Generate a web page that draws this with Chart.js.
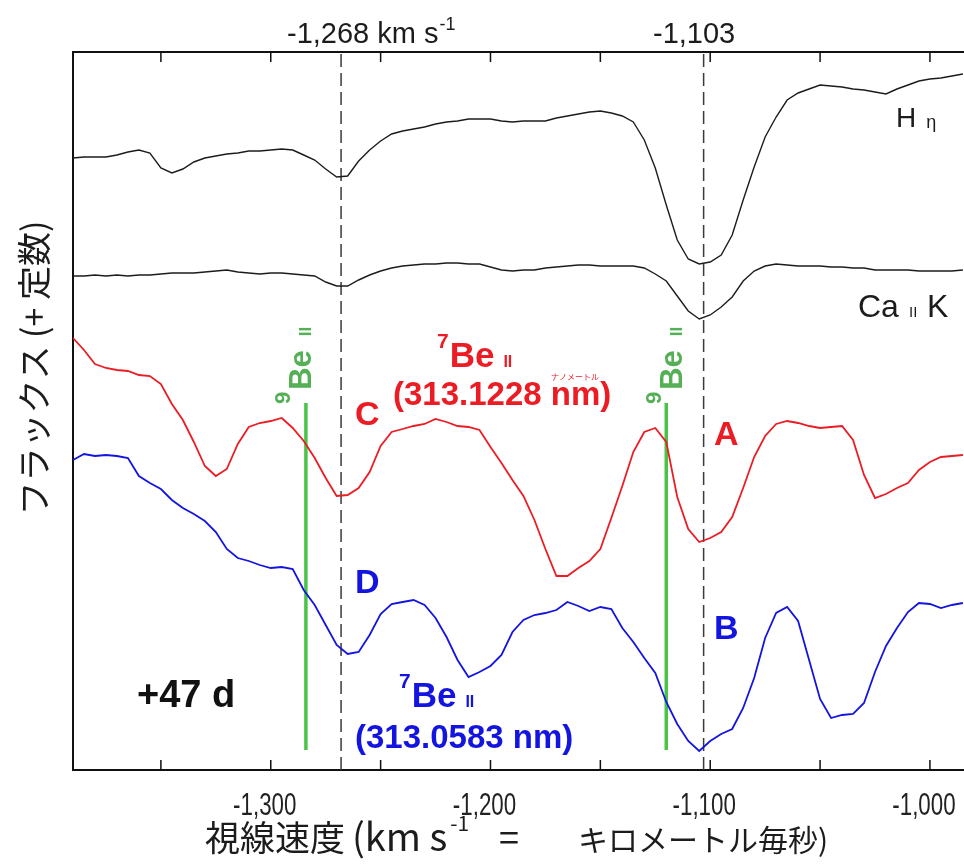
<!DOCTYPE html>
<html>
<head>
<meta charset="utf-8">
<script src="https://cdn.jsdelivr.net/npm/chart.js@4.4.1/dist/chart.umd.min.js"></script>
<style>
  html, body { margin: 0; padding: 0; background: #fff; overflow: hidden; }
  canvas { display: block; }
</style>
</head>
<body>
<canvas id="c" width="964" height="865"></canvas>
<script>
// Velocity grid (km/s) shared by all four spectra
const velocity = [-1390,-1385,-1380,-1375,-1370,-1365,-1360,-1355,-1350,-1345,-1340,-1335,-1330,-1325,-1320,-1315,-1310,-1305,-1300,-1295,
  -1290,-1285,-1280,-1275,-1270,-1265,-1260,-1255,-1250,-1245,-1240,-1235,-1230,-1225,-1220,-1215,-1210,-1205,-1200,-1195,
  -1190,-1185,-1180,-1175,-1170,-1165,-1160,-1155,-1150,-1145,-1140,-1135,-1130,-1125,-1120,-1115,-1110,-1105,-1100,-1095,
  -1090,-1085,-1080,-1075,-1070,-1065,-1060,-1055,-1050,-1045,-1040,-1035,-1030,-1025,-1020,-1015,-1010,-1005,-1000,-995,
  -990,-985];

// Normalised flux + offset (arbitrary units)
const fluxHeta = [6.12,6.13,6.13,6.13,6.15,6.18,6.20,6.17,6.02,5.97, 6.01,6.08,6.12,6.14,6.16,6.17,6.19,6.19,6.20,6.21,
  6.20,6.15,6.10,6.01,5.93,5.94,6.09,6.20,6.29,6.36, 6.39,6.41,6.43,6.46,6.48,6.49,6.51,6.51,6.51,6.49,
  6.48,6.49,6.49,6.49,6.52,6.54,6.56,6.58,6.59,6.57, 6.54,6.48,6.30,6.02,5.65,5.30,5.11,5.06,5.08,5.15,
  5.35,5.70,6.03,6.33,6.53,6.70,6.77,6.81,6.85,6.84, 6.83,6.81,6.80,6.78,6.76,6.81,6.85,6.89,6.91,6.92,
  6.94,6.96];
const fluxCaK = [4.94,4.94,4.95,4.94,4.95,4.94,4.95,4.95,4.96,4.97, 4.97,4.97,4.98,4.99,5.00,4.98,4.97,4.96,4.97,4.97,
  4.96,4.95,4.94,4.88,4.84,4.84,4.90,4.95,4.99,5.02, 5.04,5.05,5.06,5.06,5.07,5.07,5.06,5.06,5.03,5.00,
  4.99,5.00,5.00,5.02,5.03,5.04,5.05,5.05,5.04,5.04, 5.04,5.04,5.02,4.96,4.89,4.74,4.59,4.51,4.55,4.63,
  4.73,4.89,4.99,5.04,5.06,5.05,5.04,5.04,5.04,5.03, 5.03,5.02,5.02,5.00,5.00,5.00,5.00,4.99,4.99,4.99,
  4.99,5.00];
const fluxRed = [4.32,4.20,4.06,4.02,4.00,3.99,3.95,3.94,3.86,3.66, 3.50,3.28,3.04,2.94,3.01,3.26,3.43,3.47,3.49,3.52,
  3.42,3.29,3.12,2.92,2.74,2.75,2.82,2.98,3.24,3.38, 3.41,3.44,3.46,3.51,3.48,3.44,3.43,3.40,3.23,3.07,
  2.90,2.74,2.50,2.21,1.94,1.94,2.02,2.09,2.21,2.52, 2.84,3.18,3.38,3.42,3.28,2.73,2.41,2.28,2.32,2.38,
  2.53,2.82,3.13,3.34,3.46,3.49,3.47,3.44,3.42,3.43, 3.44,3.30,2.95,2.72,2.76,2.82,2.87,3.00,3.08,3.13,
  3.14,3.15];
const fluxBlue = [3.10,3.16,3.14,3.15,3.14,3.12,2.94,2.87,2.81,2.70, 2.62,2.56,2.49,2.38,2.21,2.12,2.09,2.05,2.02,2.03,
  2.01,1.80,1.65,1.45,1.25,1.16,1.18,1.35,1.56,1.66, 1.68,1.70,1.65,1.52,1.33,1.10,0.93,0.98,1.04,1.15,
  1.38,1.50,1.55,1.57,1.60,1.68,1.64,1.59,1.63,1.61, 1.42,1.28,1.12,0.97,0.68,0.46,0.29,0.19,0.29,0.36,
  0.41,0.62,0.92,1.32,1.57,1.63,1.49,1.10,0.71,0.52, 0.55,0.56,0.67,0.98,1.24,1.42,1.58,1.67,1.66,1.62,
  1.65,1.67];

// Axis ticks and marker lines
const tickValues = [-1350, -1300, -1250, -1200, -1150, -1100, -1050, -1000];
const dashedVel = [-1268, -1103];
const be9Vel = [-1284, -1120];
const be9Span = [0.20, 3.67];
const yRange = [0, 7.18];
const xRange = [-1390, -984.5];

const pts = arr => velocity.map((v, i) => ({ x: v, y: arr[i] }));
const vline = (v, span) => [{ x: v, y: span[0] }, { x: v, y: span[1] }];

const datasets = [
  { data: pts(fluxHeta), borderColor: '#1c1c1c', borderWidth: 1.4 },
  { data: pts(fluxCaK), borderColor: '#1c1c1c', borderWidth: 1.4 },
  { data: pts(fluxRed), borderColor: '#ec1c24', borderWidth: 1.8 },
  { data: pts(fluxBlue), borderColor: '#1414e0', borderWidth: 1.8 },
];
be9Vel.forEach(v => datasets.push({ data: vline(v, be9Span), borderColor: '#49c449', borderWidth: 3.5 }));
dashedVel.forEach(v => datasets.push({ data: vline(v, yRange), borderColor: '#3a3a3a', borderWidth: 1.5, borderDash: [13, 6] }));
datasets.forEach(d => { d.pointRadius = 0; d.tension = 0; d.fill = false; });

const fmt = v => Number(v).toLocaleString('en-US');

function txt(ctx, s, x, y, font, color, align) {
  ctx.font = font;
  ctx.fillStyle = color;
  ctx.textAlign = align || 'left';
  ctx.textBaseline = 'alphabetic';
  ctx.fillText(s, x, y);
  return x + ctx.measureText(s).width;
}

const annotations = {
  id: 'annotations',
  afterDraw(chart) {
    const ctx = chart.ctx;
    const xs = chart.scales.x;
    const area = chart.chartArea;
    const sans = '"Liberation Sans", Arial, sans-serif';
    const cjk = '"Noto Sans CJK JP", "Noto Sans", sans-serif';
    const red = '#ec1c24', blue = '#1414e0', green = '#55b055', ink = '#1c1c1c';
    ctx.save();

    // inward tick marks (bottom and top) and condensed tick labels
    ctx.strokeStyle = '#111';
    ctx.lineWidth = 1.5;
    tickValues.forEach(v => {
      const px = xs.getPixelForValue(v);
      ctx.beginPath();
      ctx.moveTo(px, area.bottom); ctx.lineTo(px, area.bottom - 10);
      ctx.moveTo(px, area.top); ctx.lineTo(px, area.top + 10);
      ctx.stroke();
      if (v % 100 === 0) {
        ctx.save();
        ctx.translate(px - 6, 815);
        ctx.scale(0.72, 1);
        txt(ctx, fmt(v), 0, 0, '31px ' + sans, '#222', 'center');
        ctx.restore();
      }
    });

    // top velocity labels
    let e = txt(ctx, '-1,268 km s', 287, 43, '29px ' + sans, ink);
    txt(ctx, '-1', e + 1, 30, '18px ' + sans, ink);
    txt(ctx, '-1,103', 653, 43, '29px ' + sans, ink);

    // line identifiers
    e = txt(ctx, 'H', 896, 127, '28px ' + sans, ink);
    txt(ctx, 'η', e + 10, 128, '18px ' + sans, ink);
    txt(ctx, 'Ca', 858, 317, '32px ' + sans, ink);
    txt(ctx, 'II', 909, 317, '15px ' + sans, ink);
    txt(ctx, 'K', 927, 317, '32px ' + sans, ink);

    // component letters
    const bold = s => 'bold ' + s + 'px ' + sans;
    txt(ctx, 'C', 355, 425, bold(34), red);
    txt(ctx, 'A', 714, 445, bold(34), red);
    txt(ctx, 'D', 355, 593, bold(34), blue);
    txt(ctx, 'B', 714, 639, bold(34), blue);
    txt(ctx, '+47 d', 137, 707, bold(38), '#111');

    // 7Be II labels
    function iso(x, y, color, sup) {
      let p = txt(ctx, sup, x, y - 19, bold(21), color);
      p = txt(ctx, 'Be', p + 1, y, bold(35), color);
      txt(ctx, 'II', p + 9, y, bold(16), color);
    }
    iso(437, 367, red, '7');
    txt(ctx, '(313.1228 nm)', 393, 405, bold(33), red);
    txt(ctx, 'ナノメートル', 551, 380, '8px ' + cjk, red);
    iso(399, 707, blue, '7');
    txt(ctx, '(313.0583 nm)', 355, 748, bold(33), blue);

    // rotated 9Be II labels
    [[311, 404], [682, 404]].forEach(([x, y]) => {
      ctx.save();
      ctx.translate(x, y);
      ctx.rotate(-Math.PI / 2);
      let p = txt(ctx, '9', 0, -21, bold(22), green);
      p = txt(ctx, 'Be', p + 2, 0, bold(31), green);
      txt(ctx, 'II', p + 14, 0, bold(17), green);
      ctx.restore();
    });

    // x axis title (mixed sizes as in the original)
    txt(ctx, '視線速度', 205, 851, '35px ' + cjk, ink);
    e = txt(ctx, '(km s', 352, 851, '38px ' + cjk, ink);
    txt(ctx, '-1', e + 3, 831, '21px ' + cjk, ink);
    txt(ctx, '=', 499, 851, '36px ' + cjk, ink);
    txt(ctx, 'キロメートル毎秒)', 578, 851, '30px ' + cjk, ink);

    // y axis title
    ctx.save();
    ctx.translate(34, 368);
    ctx.rotate(-Math.PI / 2);
    ctx.font = '34px ' + cjk;
    ctx.fillStyle = ink;
    ctx.textAlign = 'center';
    ctx.textBaseline = 'middle';
    ctx.fillText('フラックス (+ 定数)', 0, 0);
    ctx.restore();

    ctx.restore();
  }
};

new Chart(document.getElementById('c'), {
  type: 'line',
  data: { datasets },
  options: {
    responsive: false,
    animation: false,
    layout: { padding: 0 },
    plugins: { legend: { display: false }, tooltip: { enabled: false } },
    scales: {
      x: {
        type: 'linear', position: 'bottom',
        min: xRange[0], max: xRange[1],
        grid: { display: false, drawTicks: false },
        border: { display: true, color: '#111', width: 2 },
        ticks: { display: false },
        afterFit: s => { s.height = 95; }
      },
      xTop: {
        type: 'linear', position: 'top',
        min: xRange[0], max: xRange[1],
        grid: { display: false, drawTicks: false },
        border: { display: true, color: '#111', width: 2 },
        ticks: { display: false },
        afterFit: s => { s.height = 52; }
      },
      y: {
        min: yRange[0], max: yRange[1],
        grid: { display: false, drawTicks: false },
        border: { display: true, color: '#111', width: 2 },
        ticks: { display: false },
        afterFit: s => { s.width = 73; }
      }
    }
  },
  plugins: [annotations]
});
</script>
</body>
</html>
